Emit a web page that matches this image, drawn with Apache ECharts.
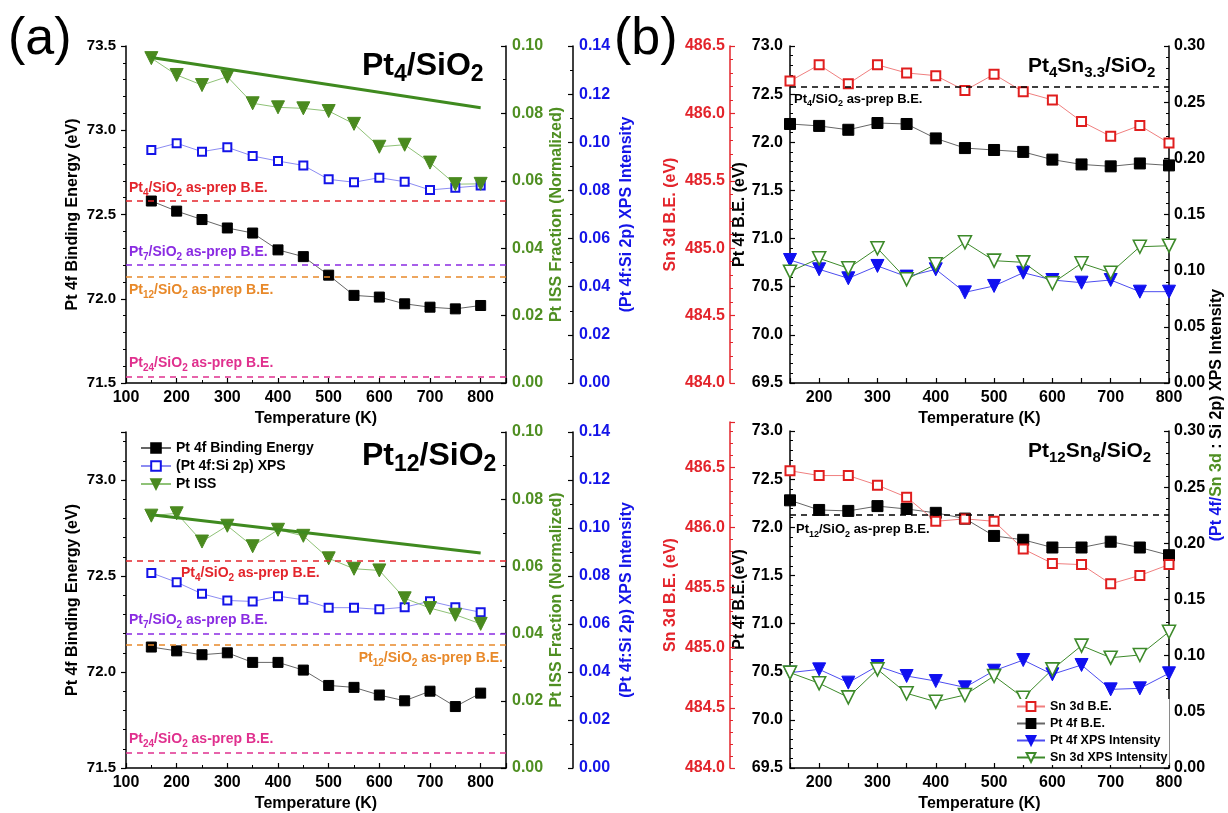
<!DOCTYPE html>
<html>
<head>
<meta charset="utf-8">
<script src="https://cdn.jsdelivr.net/npm/echarts@6/dist/echarts.min.js"></script>
<style>
  html, body { margin: 0; padding: 0; background: #fff; }
  #chart { width: 1228px; height: 813px; }
</style>
</head>
<body>
<div id="chart"></div>
<script>
    // 温度 (K)
    var temps = [150, 200, 250, 300, 350, 400, 450, 500, 550, 600, 650, 700, 750, 800];
    var trendT = [150, 800];

    // (a) Pt4/SiO2
    var a4BE  = [72.58, 72.52, 72.47, 72.42, 72.39, 72.29, 72.25, 72.14, 72.02, 72.01, 71.97, 71.95, 71.94, 71.96];
    var a4XPS = [0.0968, 0.0996, 0.0961, 0.0979, 0.0943, 0.0922, 0.0904, 0.0846, 0.0834, 0.0853, 0.0836, 0.0802, 0.0811, 0.0820];
    var a4ISS = [0.0964, 0.0914, 0.0884, 0.0909, 0.0830, 0.0818, 0.0815, 0.0807, 0.0769, 0.0701, 0.0707, 0.0654, 0.0590, 0.0591];
    var a4Trend = [0.0966, 0.0817];
    var a4Ref = [72.58, 72.20, 72.13, 71.54];   // Pt4, Pt7, Pt12, Pt24 as-prep

    // (a) Pt12/SiO2
    var a12BE  = [72.13, 72.11, 72.09, 72.10, 72.05, 72.05, 72.01, 71.93, 71.92, 71.88, 71.85, 71.90, 71.82, 71.89];
    var a12XPS = [0.0813, 0.0774, 0.0726, 0.0698, 0.0694, 0.0716, 0.0701, 0.0668, 0.0668, 0.0661, 0.0670, 0.0695, 0.0670, 0.0649];
    var a12ISS = [0.0751, 0.0758, 0.0674, 0.0721, 0.0660, 0.0709, 0.0691, 0.0624, 0.0593, 0.0588, 0.0505, 0.0476, 0.0456, 0.0429];
    var a12Trend = [0.0754, 0.0640];
    var a12Ref = [72.58, 72.20, 72.135, 71.585];

    // (b) Pt4Sn3.3/SiO2
    var b4SnBE  = [486.24, 486.36, 486.22, 486.36, 486.30, 486.28, 486.17, 486.29, 486.16, 486.10, 485.94, 485.83, 485.91, 485.78];
    var b4PtBE  = [72.19, 72.17, 72.13, 72.20, 72.19, 72.04, 71.94, 71.92, 71.90, 71.82, 71.77, 71.75, 71.78, 71.76];
    var b4PtXPS = [0.1095, 0.1012, 0.0932, 0.1042, 0.0947, 0.1012, 0.0807, 0.0864, 0.0982, 0.0917, 0.0893, 0.0917, 0.0813, 0.0813];
    var b4SnXPS = [0.0991, 0.1110, 0.1021, 0.1199, 0.0923, 0.1057, 0.1253, 0.1089, 0.1074, 0.0888, 0.1066, 0.0982, 0.1213, 0.1222];
    var b4Ref = 72.58;

    // (b) Pt12Sn8/SiO2
    var b12SnBE  = [486.47, 486.43, 486.43, 486.35, 486.25, 486.05, 486.07, 486.05, 485.82, 485.70, 485.69, 485.53, 485.60, 485.69];
    var b12PtBE  = [72.28, 72.18, 72.17, 72.22, 72.19, 72.15, 72.09, 71.91, 71.87, 71.79, 71.79, 71.85, 71.79, 71.71];
    var b12PtXPS = [0.0849, 0.0878, 0.0760, 0.0908, 0.0819, 0.0774, 0.0718, 0.0866, 0.0961, 0.0834, 0.0917, 0.0700, 0.0709, 0.0843];
    var b12SnXPS = [0.0849, 0.0754, 0.0629, 0.0878, 0.0665, 0.0590, 0.0650, 0.0819, 0.0626, 0.0878, 0.1089, 0.0982, 0.1006, 0.1213];
    var b12Ref = 72.13;

    var FONT = "'Liberation Sans', Arial, sans-serif";
    var RED = '#e3242b', GREEN = '#4f8f22', BLUE = '#1414e8', PURPLE = '#8a2be2', ORANGE = '#e8892a', PINK = '#e0308e';

    function pts(xs, ys) {
        return xs.map(function (x, i) { return [x, ys[i]]; });
    }
    // 'Pt','4','/SiO','2',... -> 下标富文本
    function chem(parts) {
        return parts.map(function (p, i) { return (i % 2 ? '{s|' : '{m|') + p + '}'; }).join('');
    }
    function rich(color, size, sub, lh, weight) {
        return {
            m: {color: color, fontSize: size, fontWeight: weight || 'bold', fontFamily: FONT, lineHeight: lh, verticalAlign: 'middle'},
            s: {color: color, fontSize: sub, fontWeight: weight || 'bold', fontFamily: FONT, lineHeight: Math.round(sub * 1.15), verticalAlign: 'bottom'}
        };
    }
    function refLine(v, color, parts, pos, extra) {
        var label = {show: true, position: pos, distance: 3, formatter: chem(parts), rich: rich(color, 14, 10, 20)};
        if (extra) Object.assign(label, extra);
        return {yAxis: v, lineStyle: {color: color, type: [6, 5], width: 1.5}, label: label};
    }

    function xAx(grid, min, max, interval, showName) {
        return {
            type: 'value', gridIndex: grid, min: min, max: max, interval: interval,
            show: showName !== null,
            name: showName ? 'Temperature (K)' : '', nameLocation: 'middle', nameGap: 28,
            nameTextStyle: {fontSize: 16, fontWeight: 'bold', fontFamily: FONT, color: '#000'},
            axisLine: {show: true, lineStyle: {color: '#000', width: 1.5}},
            axisTick: {inside: true, length: 5, lineStyle: {color: '#000', width: 1.2}},
            minorTick: {show: interval === 100, splitNumber: 2, length: 3, lineStyle: {color: '#000'}},
            splitLine: {show: false},
            axisLabel: {
                fontSize: 16, fontWeight: 'bold', fontFamily: FONT, color: '#000', margin: 7, showMaxLabel: interval === 50,
                formatter: function (v) { return v % 100 === 0 ? v : ''; }
            }
        };
    }

    function yAx(o) {
        var inside = o.inside !== false;
        return {
            type: 'value', gridIndex: o.grid, position: o.pos, offset: o.offset || 0,
            min: o.min, max: o.max, interval: o.interval,
            name: o.name || '', nameLocation: 'middle', nameGap: o.gap || 40,
            nameTextStyle: {fontSize: 16, fontWeight: 'bold', fontFamily: FONT, color: o.color},
            axisLine: {show: true, onZero: false, lineStyle: {color: o.line || '#000', width: 1.5}},
            axisTick: {inside: inside, length: 5, lineStyle: {color: o.line || '#000', width: 1.2}},
            minorTick: {show: true, splitNumber: o.minor || 2, length: 3, lineStyle: {color: o.line || '#000'}},
            splitLine: {show: false},
            axisLabel: {
                fontSize: o.fs || 16, fontWeight: 'bold', fontFamily: FONT, color: o.color, margin: o.margin || 6,
                showMaxLabel: !o.hideMax,
                formatter: function (v) { return v.toFixed(o.dec); }
            }
        };
    }

    function series(name, xi, yi, data, sym, size, item, lineColor, rotate, extra) {
        var s = {
            name: name, type: 'line', xAxisIndex: xi, yAxisIndex: yi, data: data,
            symbol: sym, symbolSize: size, symbolRotate: rotate || 0,
            itemStyle: item, lineStyle: {color: lineColor, width: 1}, z: 3
        };
        if (extra) Object.assign(s, extra);
        return s;
    }

    var blackSq = {color: '#000', borderColor: '#000', borderWidth: 1};
    var blueOpen = {color: '#fff', borderColor: BLUE, borderWidth: 2};
    var greenTri = {color: '#4a8a1f', borderColor: '#4a8a1f', borderWidth: 1};
    var redOpen = {color: '#fff', borderColor: '#e01e1e', borderWidth: 2};
    var blueTri = {color: '#1010f0', borderColor: '#1010f0', borderWidth: 1};
    var greenOpen = {color: '#fff', borderColor: '#3d8a2a', borderWidth: 1.6};

    function trend(xi, yi, ys) {
        return {
            name: 'ISS fit', type: 'line', xAxisIndex: xi, yAxisIndex: yi, data: pts(trendT, ys),
            symbol: 'none', lineStyle: {color: '#3f8a1f', width: 3}, z: 4
        };
    }

    var option = {
        animation: false,
        backgroundColor: '#fff',
        grid: [
            {left: 126, top: 46, width: 380, height: 337},
            {left: 126, top: 432, width: 380, height: 336},
            {left: 790, top: 46, width: 379, height: 337},
            {left: 790, top: 431, width: 379, height: 337},
            {left: 790, top: 422, width: 379, height: 346}
        ],
        xAxis: [
            xAx(0, 100, 850, 100, true),
            xAx(1, 100, 850, 100, true),
            xAx(2, 150, 800, 50, true),
            xAx(3, 150, 800, 50, true),
            xAx(4, 150, 800, 50, null)
        ],
        yAxis: [
            yAx({grid: 0, pos: 'left', inside: false, min: 71.5, max: 73.5, interval: 0.5, dec: 1, color: '#000', name: 'Pt 4f Binding Energy (eV)', gap: 45, minor: 5, fs: 15, margin: 10}),
            yAx({grid: 0, pos: 'right', min: 0, max: 0.10, interval: 0.02, dec: 2, color: GREEN, name: 'Pt ISS Fraction (Normalized)', gap: 43}),
            yAx({grid: 0, pos: 'right', offset: 67, min: 0, max: 0.14, interval: 0.02, dec: 2, color: BLUE, name: '(Pt 4f:Si 2p) XPS Intensity', gap: 46}),
            yAx({grid: 1, pos: 'left', inside: false, min: 71.5, max: 73.25, interval: 0.5, dec: 1, color: '#000', name: 'Pt 4f Binding Energy (eV)', gap: 45, minor: 5, fs: 15, margin: 10, hideMax: true}),
            yAx({grid: 1, pos: 'right', min: 0, max: 0.10, interval: 0.02, dec: 2, color: GREEN, name: 'Pt ISS Fraction (Normalized)', gap: 43}),
            yAx({grid: 1, pos: 'right', offset: 67, min: 0, max: 0.14, interval: 0.02, dec: 2, color: BLUE, name: '(Pt 4f:Si 2p) XPS Intensity', gap: 46}),
            yAx({grid: 2, pos: 'left', min: 69.5, max: 73.0, interval: 0.5, dec: 1, color: '#000', name: 'Pt 4f B.E. (eV)', gap: 40, minor: 5, margin: 7}),
            yAx({grid: 2, pos: 'left', offset: 60, min: 484, max: 486.5, interval: 0.5, dec: 1, color: RED, line: RED, name: 'Sn 3d B.E. (eV)', gap: 51, minor: 5, margin: 5}),
            yAx({grid: 2, pos: 'right', min: 0, max: 0.30, interval: 0.05, dec: 2, color: '#000', minor: 5, margin: 5}),
            yAx({grid: 3, pos: 'left', min: 69.5, max: 73.0, interval: 0.5, dec: 1, color: '#000', name: 'Pt 4f B.E.(eV)', gap: 40, minor: 5, margin: 7}),
            yAx({grid: 3, pos: 'right', min: 0, max: 0.30, interval: 0.05, dec: 2, color: '#000', minor: 5, margin: 5}),
            yAx({grid: 4, pos: 'left', offset: 60, min: 484, max: 486.875, interval: 0.5, dec: 1, color: RED, line: RED, name: 'Sn 3d B.E. (eV)', gap: 51, minor: 5, margin: 5, hideMax: true})
        ],
        title: [
            {text: '(a)', left: 8, top: 12, padding: 0, textStyle: {fontSize: 52, fontWeight: 'normal', fontFamily: FONT, color: '#000', lineHeight: 56}},
            {text: '(b)', left: 614, top: 12, padding: 0, textStyle: {fontSize: 52, fontWeight: 'normal', fontFamily: FONT, color: '#000', lineHeight: 56}},
            {text: chem(['Pt', '4', '/SiO', '2']), left: 362, top: 46, padding: 0, textStyle: {rich: rich('#000', 32, 23, 40)}},
            {text: chem(['Pt', '12', '/SiO', '2']), left: 362, top: 436, padding: 0, textStyle: {rich: rich('#000', 32, 23, 40)}},
            {text: chem(['Pt', '4', 'Sn', '3.3', '/SiO', '2']), left: 1028, top: 52, padding: 0, textStyle: {rich: rich('#000', 21, 15, 28)}},
            {text: chem(['Pt', '12', 'Sn', '8', '/SiO', '2']), left: 1028, top: 437, padding: 0, textStyle: {rich: rich('#000', 21, 15, 28)}}
        ],
        legend: [
            {
                data: ['Pt 4f Binding Energy', '(Pt 4f:Si 2p) XPS', 'Pt ISS'],
                orient: 'vertical', left: 140, top: 441, padding: 0,
                itemWidth: 30, itemHeight: 12, itemGap: 4,
                textStyle: {fontSize: 14, fontWeight: 'bold', fontFamily: FONT, color: '#000', lineHeight: 13}
            },
            {
                data: ['Sn 3d B.E.', 'Pt 4f B.E.', 'Pt 4f XPS Intensity', 'Sn 3d XPS Intensity'],
                orient: 'vertical', left: 1014, top: 699, padding: [1, 2, 1, 2], backgroundColor: '#fff',
                itemWidth: 28, itemHeight: 11, itemGap: 4,
                textStyle: {fontSize: 12.5, fontWeight: 'bold', fontFamily: FONT, color: '#000', lineHeight: 11}
            }
        ],
        graphic: [
            {
                type: 'text', x: 1217, y: 415, rotation: Math.PI / 2, z: 10,
                style: {
                    text: '{b|(Pt 4f/}{g|Sn 3d}{k| : Si 2p) XPS Intensity}',
                    align: 'center', verticalAlign: 'middle',
                    rich: {
                        b: {fill: BLUE, fontSize: 16, fontWeight: 'bold', fontFamily: FONT},
                        g: {fill: GREEN, fontSize: 16, fontWeight: 'bold', fontFamily: FONT},
                        k: {fill: '#000', fontSize: 16, fontWeight: 'bold', fontFamily: FONT}
                    }
                }
            }
        ],
        series: [
            // (a) Pt4
            series('Pt 4f Binding Energy', 0, 0, pts(temps, a4BE), 'rect', 10, blackSq, '#666', 0, {
                markLine: {
                    symbol: ['none', 'none'], silent: true,
                    data: [
                        refLine(a4Ref[0], RED, ['Pt', '4', '/SiO', '2', ' as-prep B.E.'], 'insideStartTop'),
                        refLine(a4Ref[1], PURPLE, ['Pt', '7', '/SiO', '2', ' as-prep B.E.'], 'insideStartTop'),
                        refLine(a4Ref[2], ORANGE, ['Pt', '12', '/SiO', '2', ' as-prep B.E.'], 'insideStartBottom'),
                        refLine(a4Ref[3], PINK, ['Pt', '24', '/SiO', '2', ' as-prep B.E.'], 'insideStartTop')
                    ]
                }
            }),
            series('(Pt 4f:Si 2p) XPS', 0, 2, pts(temps, a4XPS), 'rect', 8, blueOpen, '#8c8cf2'),
            series('Pt ISS', 0, 1, pts(temps, a4ISS), 'triangle', 13, greenTri, '#8fc277', 180),
            trend(0, 1, a4Trend),

            // (a) Pt12
            series('Pt 4f Binding Energy', 1, 3, pts(temps, a12BE), 'rect', 10, blackSq, '#666', 0, {
                markLine: {
                    symbol: ['none', 'none'], silent: true,
                    data: [
                        refLine(a12Ref[0], RED, ['Pt', '4', '/SiO', '2', ' as-prep B.E.'], 'insideStartBottom', {padding: [0, 0, 0, 52]}),
                        refLine(a12Ref[1], PURPLE, ['Pt', '7', '/SiO', '2', ' as-prep B.E.'], 'insideStartTop'),
                        refLine(a12Ref[2], ORANGE, ['Pt', '12', '/SiO', '2', ' as-prep B.E.'], 'insideEndBottom'),
                        refLine(a12Ref[3], PINK, ['Pt', '24', '/SiO', '2', ' as-prep B.E.'], 'insideStartTop')
                    ]
                }
            }),
            series('(Pt 4f:Si 2p) XPS', 1, 5, pts(temps, a12XPS), 'rect', 8, blueOpen, '#8c8cf2'),
            series('Pt ISS', 1, 4, pts(temps, a12ISS), 'triangle', 13, greenTri, '#8fc277', 180),
            trend(1, 4, a12Trend),

            // (b) Pt4Sn3.3
            series('Pt 4f B.E.', 2, 6, pts(temps, b4PtBE), 'rect', 11, blackSq, '#666', 0, {
                markLine: {
                    symbol: ['none', 'none'], silent: true,
                    data: [{
                        yAxis: b4Ref, lineStyle: {color: '#000', type: [6, 5], width: 1.5},
                        label: {show: true, position: 'insideStartBottom', distance: 4, formatter: chem(['Pt', '4', '/SiO', '2', ' as-prep B.E.']), rich: rich('#000', 13, 9, 18)}
                    }]
                }
            }),
            series('Sn 3d B.E.', 2, 7, pts(temps, b4SnBE), 'rect', 9, redOpen, '#f07f7f'),
            series('Pt 4f XPS Intensity', 2, 8, pts(temps, b4PtXPS), 'triangle', 13, blueTri, '#4d4df0', 180),
            series('Sn 3d XPS Intensity', 2, 8, pts(temps, b4SnXPS), 'triangle', 13, greenOpen, '#3d8a2a', 180),

            // (b) Pt12Sn8
            series('Pt 4f B.E.', 3, 9, pts(temps, b12PtBE), 'rect', 11, blackSq, '#666', 0, {
                markLine: {
                    symbol: ['none', 'none'], silent: true,
                    data: [{
                        yAxis: b12Ref, lineStyle: {color: '#000', type: [6, 5], width: 1.5},
                        label: {show: true, position: 'insideStartBottom', distance: 6, formatter: chem(['Pt', '12', '/SiO', '2', ' as-prep B.E.']), rich: rich('#000', 13, 9, 18)}
                    }]
                }
            }),
            series('Sn 3d B.E.', 4, 11, pts(temps, b12SnBE), 'rect', 9, redOpen, '#f07f7f'),
            series('Pt 4f XPS Intensity', 3, 10, pts(temps, b12PtXPS), 'triangle', 13, blueTri, '#4d4df0', 180),
            series('Sn 3d XPS Intensity', 3, 10, pts(temps, b12SnXPS), 'triangle', 13, greenOpen, '#3d8a2a', 180)
        ]
    };

    var myChart = echarts.init(document.getElementById('chart'));
    myChart.setOption(option);
</script>
</body>
</html>
